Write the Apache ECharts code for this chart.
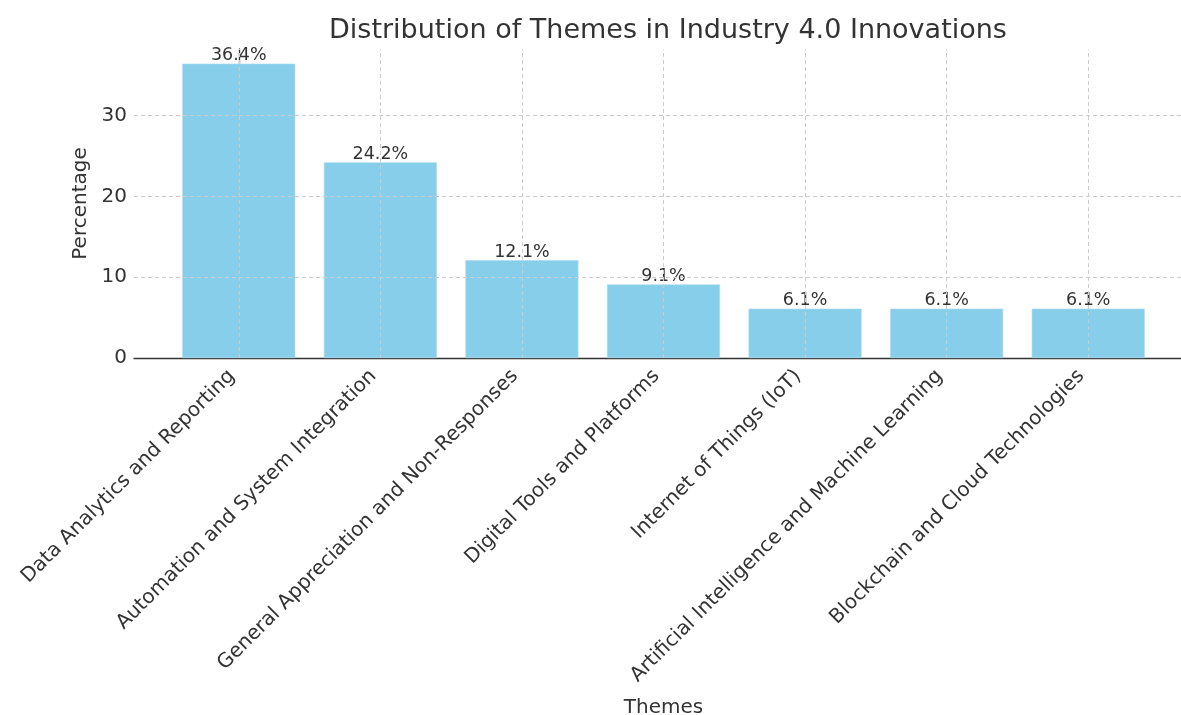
<!DOCTYPE html>
<html>
<head>
<meta charset="utf-8">
<script src="https://cdn.jsdelivr.net/npm/echarts@6/dist/echarts.min.js"></script>
<style>
  html, body { margin: 0; padding: 0; background: #fff; overflow: hidden; }
  #chart { width: 1181px; height: 715px; }
</style>
</head>
<body>
<div id="chart"></div>
<script>
// Share of each theme among Industry 4.0 innovation responses
const themes = [
  'Data Analytics and Reporting',
  'Automation and System Integration',
  'General Appreciation and Non-Responses',
  'Digital Tools and Platforms',
  'Internet of Things (IoT)',
  'Artificial Intelligence and Machine Learning',
  'Blockchain and Cloud Technologies'
];
const percentages = [36.4, 24.2, 12.1, 9.1, 6.1, 6.1, 6.1];
const yTicks = [0, 10, 20, 30];

const positions = themes.map((_, i) => i);
const FONT = 'DejaVu Sans';
const ink = '#333333';

const chart = echarts.init(document.getElementById('chart'), null, { renderer: 'canvas' });
chart.setOption({
  backgroundColor: '#ffffff',
  animation: false,
  textStyle: { fontFamily: FONT },
  title: {
    text: 'Distribution of Themes in Industry 4.0 Innovations',
    left: 663, top: 12, textAlign: 'center',
    textStyle: { fontFamily: FONT, fontSize: 27, fontWeight: 'normal', color: ink }
  },
  // plot area runs slightly past the right edge of the canvas
  grid: { left: 134, width: 1059, top: 49, height: 309, containLabel: false, outerBoundsMode: 'none' },
  xAxis: {
    type: 'value',
    min: -0.74, max: 6.74,
    name: 'Themes',
    nameLocation: 'middle',
    nameGap: 340,
    nameTextStyle: { fontFamily: FONT, fontSize: 20, color: ink },
    axisLine: { show: true, onZero: false, lineStyle: { color: ink, width: 1.3 } },
    axisTick: { show: true, inside: true, length: 5, customValues: positions, lineStyle: { color: ink } },
    axisLabel: {
      customValues: positions,
      rotate: 45,
      fontFamily: FONT, fontSize: 20, color: ink,
      margin: 8,
      padding: [0, 10, 0, 0],
      formatter: v => themes[Math.round(v)] || ''
    },
    splitLine: { show: false }
  },
  yAxis: {
    type: 'value',
    min: 0, max: 38.22,
    name: 'Percentage',
    nameLocation: 'middle',
    nameGap: 33,
    nameTextStyle: { fontFamily: FONT, fontSize: 20, color: ink },
    axisLine: { show: true, lineStyle: { color: ink, width: 1.3 } },
    axisTick: { show: true, inside: true, length: 5, customValues: yTicks, lineStyle: { color: ink } },
    axisLabel: { customValues: yTicks, fontFamily: FONT, fontSize: 20, color: ink, margin: 7 },
    splitLine: { show: false }
  },
  series: [
    {
      type: 'bar',
      data: positions.map(i => [i, percentages[i]]),
      barWidth: 113,
      itemStyle: { color: '#87CEEB', borderColor: '#a9dcf0', borderWidth: 0.6 },
      label: {
        show: true, position: 'top', distance: -1,
        fontFamily: FONT, fontSize: 17.5, color: ink,
        formatter: p => p.value[1].toFixed(1) + '%'
      },
      markLine: {
        silent: true, symbol: 'none', label: { show: false },
        lineStyle: { color: '#cccccc', type: [4, 3], width: 1 },
        data: positions.map(i => ({ xAxis: i })).concat(yTicks.slice(1).map(v => ({ yAxis: v }))),
        z: 5
      },
      z: 2
    }
  ]
});
</script>
</body>
</html>
